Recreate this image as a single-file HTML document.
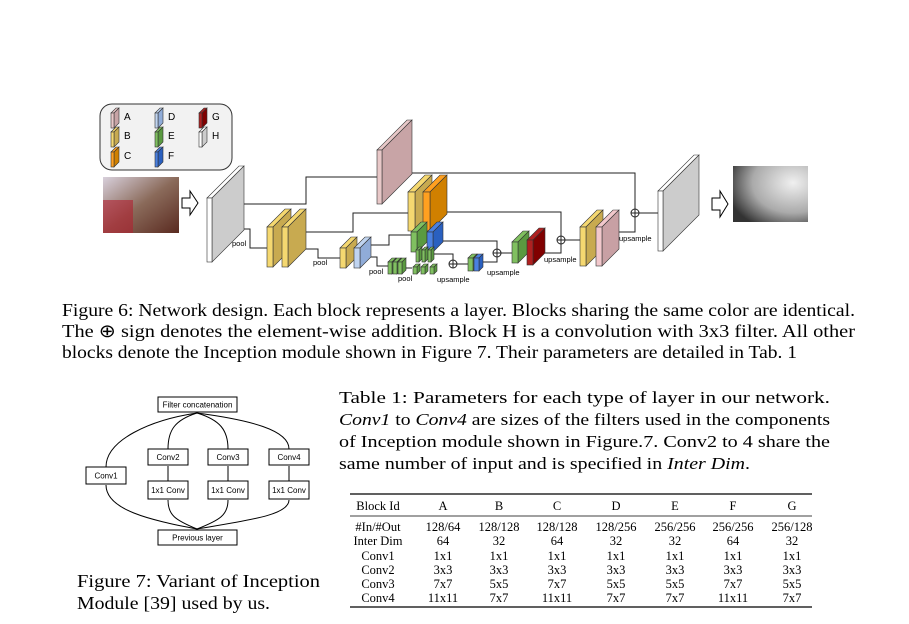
<!DOCTYPE html>
<html><head><meta charset="utf-8"><style>
html,body{margin:0;padding:0;background:#fff;width:909px;height:624px;overflow:hidden}
svg{display:block}
.s{font-family:"Liberation Sans",sans-serif}
.r{font-family:"Liberation Serif",serif}
</style></head><body>
<svg id="sv" width="909" height="624" xmlns="http://www.w3.org/2000/svg">
<defs>
<linearGradient id="img" x1="0" y1="0" x2="1" y2="1"><stop offset="0" stop-color="#d8d0dc"/><stop offset=".5" stop-color="#8a6a5a"/><stop offset="1" stop-color="#5a2a20"/></linearGradient>
<radialGradient id="dep" cx=".8" cy=".3" r=".9"><stop offset="0" stop-color="#f0f0f0"/><stop offset=".6" stop-color="#aaa"/><stop offset="1" stop-color="#333"/></radialGradient>
</defs>
<rect x="100" y="104" width="132" height="66" rx="12" fill="#f2f2f2" stroke="#333" stroke-width="1"/>
<g class="s" font-size="10" fill="#000">
<text x="124" y="120">A</text><text x="124" y="139">B</text><text x="124" y="159">C</text>
<text x="168" y="120">D</text><text x="168" y="139">E</text><text x="168" y="159">F</text>
<text x="212" y="120">G</text><text x="212" y="139">H</text>
</g>
<rect x="103" y="177" width="76" height="56" fill="url(#img)"/>
<rect x="103" y="200" width="30" height="33" fill="#b02030" opacity=".6"/>
<polygon points="182,198 190,198 190,191 198,203 190,215 190,208 182,208" fill="#fff" stroke="#000"/>
<polygon points="712,198 720,198 720,191 728,204 720,217 720,210 712,210" fill="#fff" stroke="#000"/>
<rect x="733" y="166" width="75" height="56" fill="url(#dep)"/>
<g id="lines" fill="none" stroke="#222" stroke-width="1"></g>
<g id="blocks"></g>
<g class="s" font-size="7.5" fill="#000">
<text x="232" y="246">pool</text><text x="313" y="265">pool</text><text x="369" y="274">pool</text><text x="398" y="281">pool</text>
<text x="437" y="282">upsample</text><text x="487" y="275">upsample</text><text x="544" y="262">upsample</text><text x="619" y="241">upsample</text>
</g>
<g class="r" font-size="18" fill="#000">
<text x="62" y="316" textLength="793" lengthAdjust="spacingAndGlyphs">Figure 6:  Network design. Each block represents a layer. Blocks sharing the same color are identical.</text>
<text x="62" y="337" textLength="793" lengthAdjust="spacingAndGlyphs">The ⊕ sign denotes the element-wise addition. Block H is a convolution with 3x3 filter. All other</text>
<text x="62" y="358" textLength="735" lengthAdjust="spacingAndGlyphs">blocks denote the Inception module shown in Figure 7. Their parameters are detailed in Tab. 1</text>
<text x="77" y="587" textLength="243" lengthAdjust="spacingAndGlyphs">Figure 7: Variant of Inception</text>
<text x="77" y="609" textLength="193" lengthAdjust="spacingAndGlyphs">Module [39] used by us.</text>
</g>
<g class="r" font-size="17" fill="#000">
<text x="339" y="403" textLength="491" lengthAdjust="spacingAndGlyphs">Table 1: Parameters for each type of layer in our network.</text>
<text x="339" y="425" textLength="491" lengthAdjust="spacingAndGlyphs"><tspan font-style="italic">Conv1</tspan> to <tspan font-style="italic">Conv4</tspan> are sizes of the filters used in the components</text>
<text x="339" y="447" textLength="491" lengthAdjust="spacingAndGlyphs">of Inception module shown in Figure.7. Conv2 to 4 share the</text>
<text x="339" y="469" textLength="411" lengthAdjust="spacingAndGlyphs">same number of input and is specified in <tspan font-style="italic">Inter Dim</tspan>.</text>
</g>
<line x1="350" y1="494" x2="812" y2="494" stroke="#000" stroke-width="1.3"/>
<line x1="350" y1="516" x2="812" y2="516" stroke="#000" stroke-width="0.8"/>
<line x1="350" y1="607" x2="812" y2="607" stroke="#000" stroke-width="1.3"/>
<g id="tbl" class="r" font-size="12.5" fill="#000" text-anchor="middle"></g>
<g class="s" font-size="8" fill="#000" text-anchor="middle" stroke-width="1">
<rect x="158" y="397" width="79" height="15" fill="#fff" stroke="#000"/><text x="197.5" y="407.5">Filter concatenation</text>
<rect x="158" y="530" width="79" height="15" fill="#fff" stroke="#000"/><text x="197.5" y="540.5">Previous layer</text>
<rect x="86" y="467" width="40" height="17" fill="#fff" stroke="#000"/><text x="106" y="478.5">Conv1</text>
<rect x="148" y="449" width="40" height="16" fill="#fff" stroke="#000"/><text x="168" y="460">Conv2</text>
<rect x="208" y="449" width="40" height="16" fill="#fff" stroke="#000"/><text x="228" y="460">Conv3</text>
<rect x="269" y="449" width="40" height="16" fill="#fff" stroke="#000"/><text x="289" y="460">Conv4</text>
<rect x="148" y="481" width="40" height="18" fill="#fff" stroke="#000"/><text x="168" y="493">1x1 Conv</text>
<rect x="208" y="481" width="40" height="18" fill="#fff" stroke="#000"/><text x="228" y="493">1x1 Conv</text>
<rect x="269" y="481" width="40" height="18" fill="#fff" stroke="#000"/><text x="289" y="493">1x1 Conv</text>
<g fill="none" stroke="#000">
<path d="M197,413 C150,420 106,440 106,467"/>
<path d="M197,413 C175,420 168,430 168,449"/>
<path d="M197,413 C220,420 228,430 228,449"/>
<path d="M197,413 C250,420 289,430 289,449"/>
<path d="M197,529 C150,520 106,510 106,485"/>
<path d="M197,529 C175,520 168,515 168,500"/>
<path d="M197,529 C220,520 228,515 228,500"/>
<path d="M197,529 C250,520 289,515 289,500"/>
<path d="M168,481 V466 M228,481 V466 M289,481 V466"/>
</g>
</g>
</svg>
<script>
var NS="http://www.w3.org/2000/svg";
function el(p,t,a){var e=document.createElementNS(NS,t);for(var k in a)e.setAttribute(k,a[k]);p.appendChild(e);return e;}
var B=document.getElementById('blocks'),L=document.getElementById('lines');
var C={A:['#c8a4a6','#e8c8c8'],B:['#c8aa50','#f5d870'],C:['#d08000','#ffa020'],D:['#90acd8','#c0d4f0'],E:['#5a9a40','#80c060'],F:['#2a60c0','#4a80e0'],G:['#800000','#b02020'],H:['#cccccc','#ffffff'],P:['#c8a0a4','#f2c8cc']};
function blk(x,y,w,h,d,c){var s=C[c][0],f=C[c][1];
el(B,'polygon',{points:[x,y,x+d,y-d,x+w+d,y-d,x+w,y].join(' '),fill:f,stroke:'#333','stroke-width':.6});
el(B,'polygon',{points:[x+w,y,x+w+d,y-d,x+w+d,y+h-d,x+w,y+h].join(' '),fill:s,stroke:'#333','stroke-width':.6});
el(B,'rect',{x:x,y:y,width:w,height:h,fill:f,stroke:'#333','stroke-width':.6});}
function ln(d){el(L,'path',{d:d});}
function plus(x,y){el(L,'circle',{cx:x,cy:y,r:4,fill:'#fff'});ln('M'+(x-4)+','+y+'H'+(x+4)+'M'+x+','+(y-4)+'V'+(y+4));}
blk(111,113,3,15,5,'A');blk(111,132,3,15,5,'B');blk(111,152,3,15,5,'C');
blk(155,113,3,15,5,'D');blk(155,132,3,15,5,'E');blk(155,152,3,15,5,'F');
blk(199,113,3,15,5,'G');blk(199,132,3,15,5,'H');
ln('M237,204H306V177H377');
ln('M403,173H635V209');
ln('M234,229H250V248H267');
ln('M300,232H353V213H408');
ln('M440,212H561V236');
ln('M300,249H318V258H340');
ln('M370,245H389V235H411');
ln('M370,257H377V266H388');
ln('M440,241H497V249');
ln('M430,254H453V260');
ln('M457,264H468');
ln('M483,262H497V257');
ln('M501,253H512');
ln('M543,253H561V244');
ln('M565,240H580');
ln('M610,232H635V217');
ln('M639,213H658');
ln('M400,268H412');
blk(207,198,5,64,32,'H');
blk(267,227,6,40,18,'B');blk(282,227,6,40,18,'B');
blk(377,150,5,54,30,'A');
blk(408,192,7,39,17,'B');blk(423,192,7,39,17,'C');
blk(411,232,6,20,10,'E');blk(427,232,6,20,10,'F');
blk(340,248,6,20,11,'B');blk(354,248,6,20,11,'D');
blk(388,262,4,12,4,'E');blk(393,262,4,12,4,'E');blk(398,262,4,12,4,'E');
blk(416,250,3,12,3,'E');blk(422,250,3,12,3,'E');blk(428,250,3,12,3,'E');
blk(413,267,4,7,3,'E');blk(421,267,4,7,3,'E');blk(430,267,4,7,3,'E');
blk(468,258,5,13,4,'E');blk(474,258,5,13,4,'F');
blk(512,242,6,21,11,'E');blk(527,240,6,25,12,'G');
blk(580,227,6,39,17,'B');blk(596,227,6,39,17,'P');
blk(658,191,5,60,36,'H');
plus(453,264);plus(497,253);plus(561,240);plus(635,213);
var T=document.getElementById('tbl');
var xs=[378,443,499,557,616,675,733,792];
var rows=[[506,['Block Id','A','B','C','D','E','F','G']],
[527,['#In/#Out','128/64','128/128','128/128','128/256','256/256','256/256','256/128']],
[541,['Inter Dim','64','32','64','32','32','64','32']],
[556,['Conv1','1x1','1x1','1x1','1x1','1x1','1x1','1x1']],
[570,['Conv2','3x3','3x3','3x3','3x3','3x3','3x3','3x3']],
[584,['Conv3','7x7','5x5','7x7','5x5','5x5','7x7','5x5']],
[598,['Conv4','11x11','7x7','11x11','7x7','7x7','11x11','7x7']]];
rows.forEach(function(r){r[1].forEach(function(t,i){var e=el(T,'text',{x:xs[i],y:r[0]+4});e.textContent=t;});});
</script>
</body></html>
